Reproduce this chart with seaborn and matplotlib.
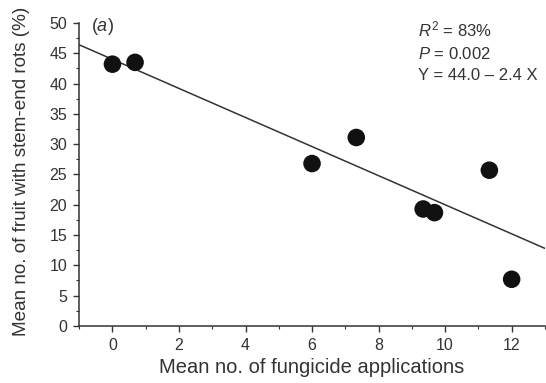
import matplotlib
matplotlib.use("Agg")
import matplotlib.pyplot as plt
import seaborn as sns
import pandas as pd
from matplotlib.ticker import MultipleLocator

applications = [0.0, 0.68, 6.0, 7.33, 9.34, 9.68, 11.33, 12.0]
stem_end_rot = [43.2, 43.5, 26.8, 31.1, 19.3, 18.7, 25.7, 7.7]
fit_intercept = 44.0
fit_slope = -2.4
x_ticks = [0, 2, 4, 6, 8, 10, 12]
y_ticks = [0, 5, 10, 15, 20, 25, 30, 35, 40, 45, 50]

sns.set_theme(style="ticks")
plt.rcParams['font.family'] = ['Liberation Sans', 'DejaVu Sans']
plt.rcParams['mathtext.fontset'] = 'custom'
plt.rcParams['mathtext.rm'] = 'Liberation Sans'
plt.rcParams['mathtext.it'] = 'Liberation Sans:italic'

df = pd.DataFrame({"x": applications, "y": stem_end_rot})
fit_x = [-1, 13]
fit = pd.DataFrame({"x": fit_x, "y": [fit_intercept + fit_slope * v for v in fit_x]})

fig = plt.figure(figsize=(5.46, 3.83), dpi=100)
ax = fig.add_axes([0.145, 0.149, 0.853, 0.791])
ax.set_xlim(-1, 13)
ax.set_ylim(0, 50)

sns.lineplot(data=fit, x="x", y="y", ax=ax, color="#333333", linewidth=1.1)
sns.scatterplot(data=df, x="x", y="y", ax=ax, color="#111111", s=160,
                edgecolor="none", zorder=3)

ax.set_xticks(x_ticks)
ax.set_yticks(y_ticks)
ax.xaxis.set_minor_locator(MultipleLocator(1))
ax.yaxis.set_minor_locator(MultipleLocator(2.5))
ax.tick_params(axis="both", which="major", direction="out", length=4.5,
               width=1, color="#333333", labelsize=11.5, labelcolor="#333333", pad=4)
ax.tick_params(axis="both", which="minor", direction="out", length=2.2,
               width=0.8, color="#333333")
for side in ["top", "right"]:
    ax.spines[side].set_visible(False)
for side in ["left", "bottom"]:
    ax.spines[side].set_color("#333333")
    ax.spines[side].set_linewidth(1.1)

ax.set_xlabel("Mean no. of fungicide applications", fontsize=14.5, color="#333333", labelpad=4)
ax.set_ylabel("Mean no. of fruit with stem-end rots (%)", fontsize=13.6, color="#333333", labelpad=7)
ax.yaxis.set_label_coords(-0.105, 0.51)

ax.text(-0.65, 51.2, "($\\it{a}$)", fontsize=13, color="#333333", va="top", ha="left")
ax.text(0.728, 1.01, "$R^2$ = 83%\n$P$ = 0.002\nY = 44.0 \u2013 2.4 X",
        transform=ax.transAxes, fontsize=12, color="#333333", va="top", ha="left",
        linespacing=1.5)

fig.savefig("out.png", dpi=100)
